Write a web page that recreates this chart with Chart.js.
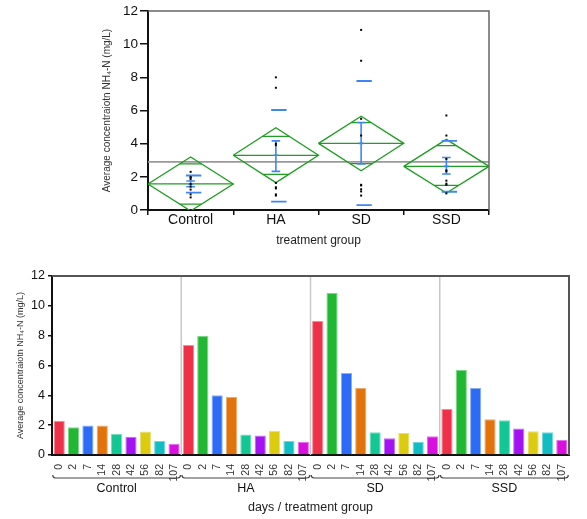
<!DOCTYPE html>
<html>
<head>
<meta charset="utf-8">
<script src="https://cdn.jsdelivr.net/npm/chart.js@4.4.1/dist/chart.umd.min.js"></script>
<style>
  body { margin: 0; background: #fff; }
  canvas { position: absolute; left: 0; }
  #topChart { top: 0; }
  #barChart { top: 255px; }
</style>
</head>
<body>
<canvas id="topChart" width="587" height="255"></canvas>
<canvas id="barChart" width="587" height="264"></canvas>
<script>
// categorias
const groups = ["Control", "HA", "SD", "SSD"];
const days = ["0", "2", "7", "14", "28", "42", "56", "82", "107"];

// valores medios por dia (mg/L)
const controlVals = [2.3, 1.86, 1.97, 1.97, 1.41, 1.23, 1.57, 0.94, 0.76];
const haVals = [7.37, 8.0, 4.0, 3.91, 1.37, 1.3, 1.63, 0.94, 0.87];
const sdVals = [9.0, 10.86, 5.5, 4.49, 1.52, 1.12, 1.48, 0.87, 1.25];
const ssdVals = [3.08, 5.7, 4.49, 2.39, 2.33, 1.77, 1.59, 1.52, 1.0];

// diamantes de media (grafico de cima)
const means = [1.57, 3.3, 4.02, 2.63];
const diamondTop = [3.2, 4.96, 5.65, 4.26];
const diamondBottom = [-0.06, 1.65, 2.37, 1.02];
const overlapHi = [2.78, 4.44, 5.27, 3.88];
const overlapLo = [0.36, 2.15, 2.8, 1.49];
const sdHi = [2.08, 6.03, 7.78, 4.17];
const sdLo = [1.05, 0.5, 0.3, 1.1];
const seHi = [1.75, 4.17, 5.28, 3.17];
const seLo = [1.4, 2.33, 2.77, 2.17];
const grandMean = 2.9;

const dayColors = ["#EE3048", "#20B832", "#2B6BF5", "#E2720A", "#12C793", "#A312F2", "#DCCB0E", "#0FBDC3", "#D90FE0"];
const dayBorders = ["#F58A96", "#7DD787", "#8AADF9", "#EEAB6C", "#73DDBE", "#C96DF7", "#EADF6E", "#6FD7DB", "#E86FEC"];

const groupVals = [controlVals, haVals, sdVals, ssdVals];

Chart.defaults.font.family = "'Liberation Sans', Arial, sans-serif";
Chart.defaults.color = "#222";
Chart.defaults.animation = false;

// junta varios segmentos num so dataset (null quebra a linha)
function segs(list) {
  const pts = [];
  list.forEach(([x1, y1, x2, y2]) => {
    pts.push({ x: x1, y: y1 }, { x: x2, y: y2 }, { x: null, y: null });
  });
  return pts;
}

function lineSet(data, color, width) {
  return {
    type: "scatter",
    data: data,
    showLine: true,
    spanGaps: false,
    borderColor: color,
    backgroundColor: color,
    borderWidth: width,
    pointRadius: 0,
    tension: 0,
  };
}

const green = "#1E9E22";
const blue = "#3F86F2";

// diamantes
const diamondPts = [];
groups.forEach((g, i) => {
  diamondPts.push(
    { x: i - 0.5, y: means[i] }, { x: i, y: diamondTop[i] },
    { x: i + 0.5, y: means[i] }, { x: i, y: diamondBottom[i] },
    { x: i - 0.5, y: means[i] }, { x: null, y: null }
  );
});

const meanLines = segs(groups.map((g, i) => [i - 0.5, means[i], i + 0.5, means[i]]));

const overlapLines = segs(groups.flatMap((g, i) => {
  const wHi = 0.5 * (1 - (overlapHi[i] - means[i]) / (diamondTop[i] - means[i]));
  const wLo = 0.5 * (1 - (means[i] - overlapLo[i]) / (means[i] - diamondBottom[i]));
  return [
    [i - wHi, overlapHi[i], i + wHi, overlapHi[i]],
    [i - wLo, overlapLo[i], i + wLo, overlapLo[i]],
  ];
}));

const sdDashes = segs(groups.flatMap((g, i) => [
  [i - 0.055, sdHi[i], i + 0.125, sdHi[i]],
  [i - 0.055, sdLo[i], i + 0.125, sdLo[i]],
]));

const seBeams = segs(groups.flatMap((g, i) => [
  [i, seLo[i], i, seHi[i]],
  [i - 0.05, seHi[i], i + 0.05, seHi[i]],
  [i - 0.05, seLo[i], i + 0.05, seLo[i]],
  [i - 0.03, means[i], i + 0.03, means[i]],
]));

const dots = groupVals.flatMap((vals, i) => vals.map((v) => ({ x: i, y: v })));

// moldura cinza em cima e a direita
const framePlugin = {
  id: "frame",
  afterDraw(chart, args, opts) {
    const { ctx, chartArea: a } = chart;
    ctx.save();
    ctx.strokeStyle = opts.color || "#666";
    ctx.lineWidth = opts.width || 1.5;
    ctx.beginPath();
    ctx.moveTo(a.left, a.top);
    ctx.lineTo(a.right, a.top);
    ctx.lineTo(a.right, a.bottom);
    ctx.stroke();
    ctx.restore();
  },
};

new Chart(document.getElementById("topChart"), {
  type: "scatter",
  data: {
    datasets: [
      {
        type: "scatter",
        data: dots,
        showLine: false,
        pointStyle: "rect",
        pointRadius: 1.4,
        borderWidth: 0,
        backgroundColor: "#000",
      },
      lineSet(seBeams, blue, 1.6),
      lineSet(sdDashes, blue, 1.8),
      lineSet(meanLines, green, 1.3),
      lineSet(overlapLines, green, 1.3),
      lineSet(diamondPts, green, 1.3),
      lineSet([{ x: -0.5, y: grandMean }, { x: 3.5, y: grandMean }], "#999", 1.6),
    ],
  },
  options: {
    responsive: false,
    animation: false,
    layout: { padding: { left: 0, right: 98, top: 11, bottom: 0 } },
    plugins: {
      legend: { display: false },
      tooltip: { enabled: false },
      frame: { color: "#666", width: 1.5 },
    },
    scales: {
      x: {
        type: "linear",
        min: -0.5,
        max: 3.5,
        afterBuildTicks: (s) => { s.ticks = groups.map((g, i) => ({ value: i })); },
        afterFit: (s) => { s.height = 45; },
        ticks: { callback: (v) => groups[v], font: { size: 14 }, color: "#111", padding: -3 },
        grid: { offset: true, drawOnChartArea: false, color: "#111", tickLength: 5, lineWidth: 1.5 },
        border: { color: "#111", width: 2 },
        title: { display: true, text: "treatment group", font: { size: 12 }, color: "#222", padding: { top: 0, bottom: 7 } },
      },
      y: {
        min: 0,
        max: 12,
        afterFit: (s) => { s.width = 148; },
        ticks: { stepSize: 2, font: { size: 13.5 }, color: "#111", padding: 2 },
        grid: { drawOnChartArea: false, color: "#111", tickLength: 8, lineWidth: 1.5 },
        border: { color: "#111", width: 2 },
        title: { display: true, text: "Average concentraiotn NH₄-N (mg/L)", font: { size: 10 }, color: "#333", padding: { top: 101, bottom: 0 } },
      },
    },
  },
  plugins: [framePlugin],
});

// grafico de barras
const barValues = [...controlVals, ...haVals, ...sdVals, ...ssdVals];
const barLabels = groups.flatMap(() => days);

const groupPlugin = {
  id: "groupMarks",
  beforeDatasetsDraw(chart) {
    const { ctx, chartArea: a, scales } = chart;
    const x = scales.x;
    ctx.save();
    ctx.strokeStyle = "#c8c8c8";
    ctx.lineWidth = 1.5;
    for (let g = 1; g < groups.length; g++) {
      const px = (x.getPixelForValue(g * days.length - 1) + x.getPixelForValue(g * days.length)) / 2;
      ctx.beginPath();
      ctx.moveTo(px, a.top);
      ctx.lineTo(px, a.bottom);
      ctx.stroke();
    }
    ctx.restore();
  },
  afterDraw(chart) {
    const { ctx, scales } = chart;
    const x = scales.x;
    const slot = x.getPixelForValue(1) - x.getPixelForValue(0);
    const y = 223;
    ctx.save();
    ctx.strokeStyle = "#444";
    ctx.lineWidth = 1.2;
    ctx.fillStyle = "#111";
    ctx.font = "12.5px 'Liberation Sans', Arial, sans-serif";
    ctx.textAlign = "center";
    ctx.textBaseline = "middle";
    groups.forEach((g, i) => {
      const x1 = x.getPixelForValue(i * days.length) - slot * 0.45;
      const x2 = x.getPixelForValue(i * days.length + days.length - 1) + slot * 0.45;
      ctx.beginPath();
      ctx.moveTo(x1, y - 3);
      ctx.quadraticCurveTo(x1, y, x1 + 3, y);
      ctx.lineTo(x2 - 3, y);
      ctx.quadraticCurveTo(x2, y, x2, y - 3);
      ctx.stroke();
      ctx.fillText(g, (x1 + x2) / 2, y + 11);
    });
    ctx.restore();
  },
};

new Chart(document.getElementById("barChart"), {
  type: "bar",
  data: {
    labels: barLabels,
    datasets: [
      {
        data: barValues,
        backgroundColor: groups.flatMap(() => dayColors),
        borderColor: groups.flatMap(() => dayBorders),
        borderWidth: 1,
        categoryPercentage: 1,
        barPercentage: 0.78,
      },
    ],
  },
  options: {
    responsive: false,
    animation: false,
    layout: { padding: { left: 0, right: 18, top: 21, bottom: 0 } },
    plugins: {
      legend: { display: false },
      tooltip: { enabled: false },
      frame: { color: "#555", width: 2 },
    },
    scales: {
      x: {
        afterFit: (s) => { s.height = 64; },
        ticks: { autoSkip: false, minRotation: 90, maxRotation: 90, font: { size: 10.5 }, color: "#333", padding: 1 },
        grid: { display: false },
        border: { color: "#111", width: 2 },
        title: { display: true, text: "days / treatment group", font: { size: 12.5 }, color: "#222", padding: { top: 0, bottom: 4 } },
      },
      y: {
        min: 0,
        max: 12,
        afterFit: (s) => { s.width = 52; },
        ticks: { stepSize: 2, font: { size: 12.5 }, color: "#111", padding: 3 },
        grid: { drawOnChartArea: false, color: "#111", tickLength: 4, lineWidth: 1.5 },
        border: { color: "#111", width: 2 },
        title: { display: true, text: "Average concentraiotn NH₄-N (mg/L)", font: { size: 9 }, color: "#333", padding: { top: 15, bottom: 0 } },
      },
    },
  },
  plugins: [framePlugin, groupPlugin],
});
</script>
</body>
</html>
